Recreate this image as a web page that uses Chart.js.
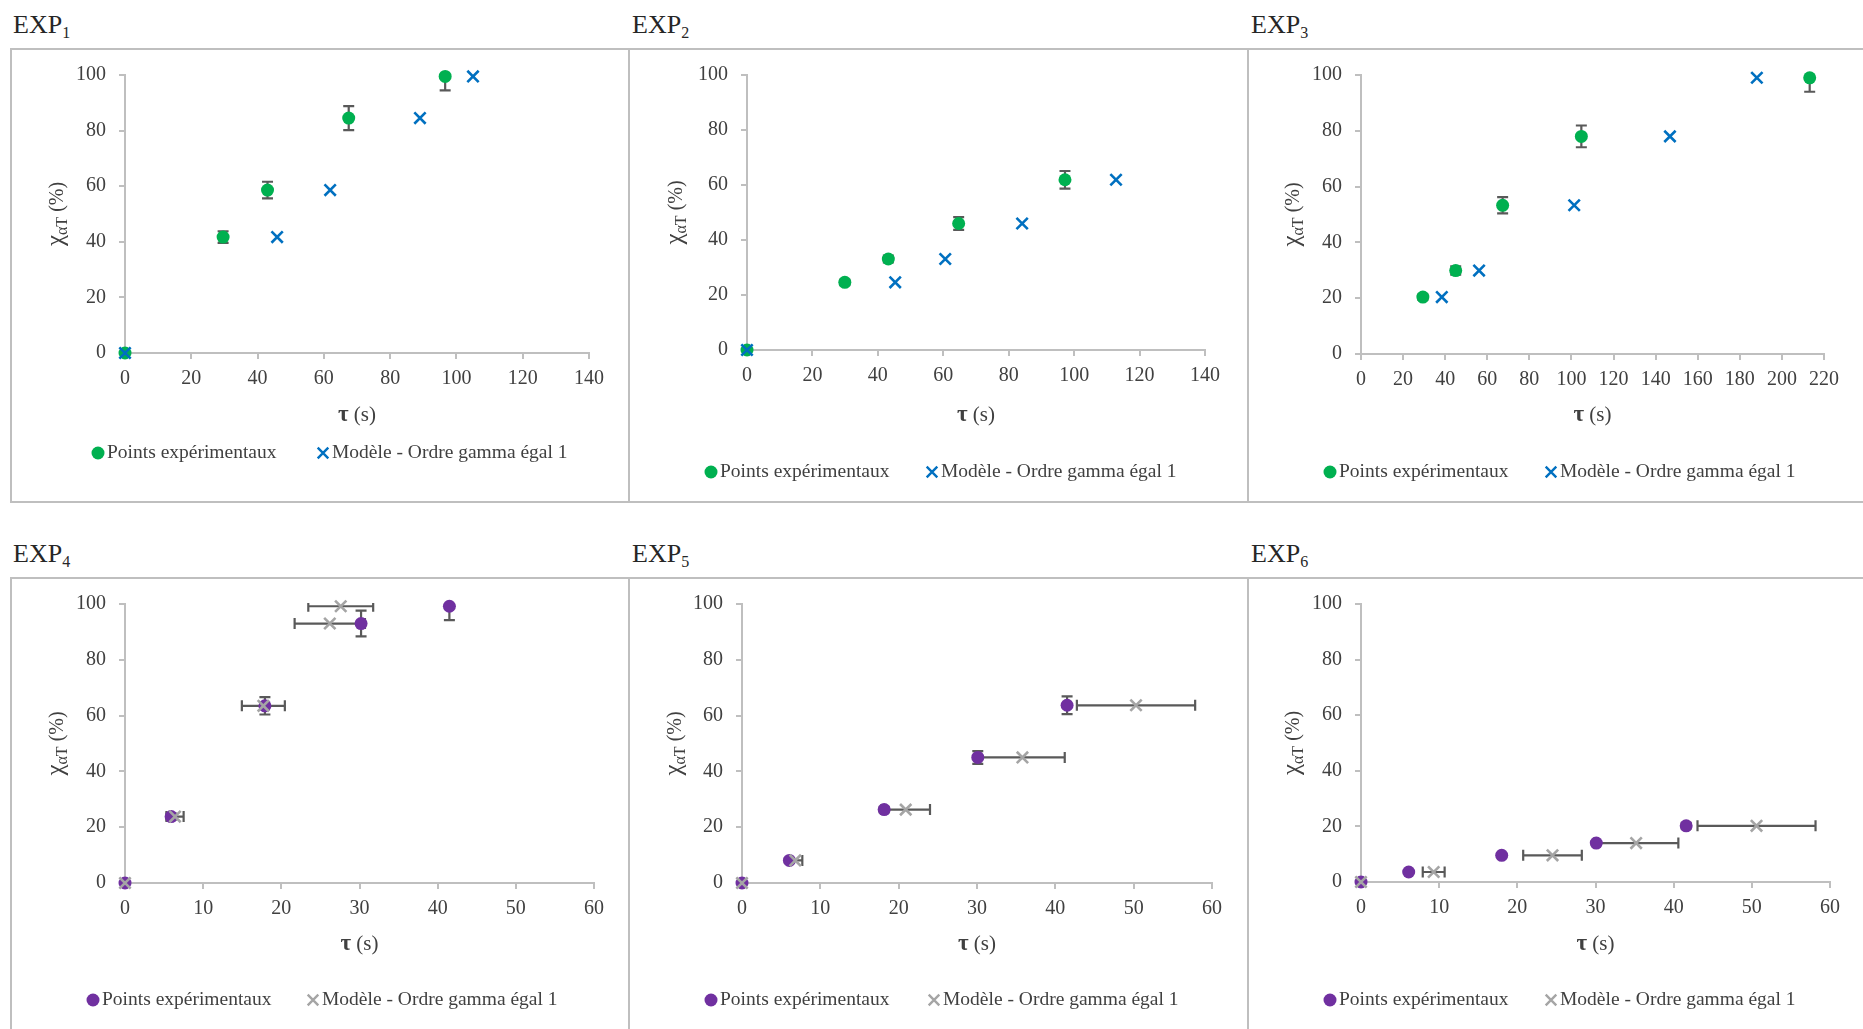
<!DOCTYPE html>
<html>
<head>
<meta charset="utf-8">
<script src="https://cdn.jsdelivr.net/npm/chart.js@4.4.1/dist/chart.umd.min.js"></script>
<style>
body { margin:0; width:1863px; height:1029px; overflow:hidden; background:#fff; position:relative; font-family:"Liberation Serif", serif; }
.lbl { position:absolute; font-size:26px; line-height:26px; color:#262626; white-space:nowrap; }
.lbl sub { font-size:16px; line-height:0; vertical-align:-5px; }
.panel { position:absolute; border:2px solid #BFBFBF; box-sizing:border-box; overflow:hidden; background:#fff; }
.panel canvas { position:absolute; left:0; top:0; }
</style>
</head>
<body>
<div class="lbl" style="left:13px;top:12px">EXP<sub>1</sub></div>
<div class="lbl" style="left:632px;top:12px">EXP<sub>2</sub></div>
<div class="lbl" style="left:1251px;top:12px">EXP<sub>3</sub></div>
<div class="lbl" style="left:13px;top:541px">EXP<sub>4</sub></div>
<div class="lbl" style="left:632px;top:541px">EXP<sub>5</sub></div>
<div class="lbl" style="left:1251px;top:541px">EXP<sub>6</sub></div>

<div class="panel" style="left:10px;top:48px;width:620px;height:455px"><canvas id="c1" width="616" height="451"></canvas></div>
<div class="panel" style="left:628px;top:48px;width:621px;height:455px"><canvas id="c2" width="617" height="451"></canvas></div>
<div class="panel" style="left:1247px;top:48px;width:620px;height:455px"><canvas id="c3" width="616" height="451"></canvas></div>
<div class="panel" style="left:10px;top:577px;width:620px;height:460px"><canvas id="c4" width="616" height="456"></canvas></div>
<div class="panel" style="left:628px;top:577px;width:621px;height:460px"><canvas id="c5" width="617" height="456"></canvas></div>
<div class="panel" style="left:1247px;top:577px;width:620px;height:460px"><canvas id="c6" width="616" height="456"></canvas></div>

<script>
// values: tau (s), conversion (%), error bars
const exp1X = [0, 29.6, 43.0, 67.5, 96.6];
const exp1Y = [0, 41.7, 58.6, 84.5, 99.5];
const exp1Err = [0, 2.1, 3.0, 4.3, 5.0];
const mod1X = [0, 45.9, 61.9, 89.0, 105.0];

const exp2X = [0, 29.9, 43.2, 64.7, 97.2];
const exp2Y = [0, 24.6, 33.1, 46.0, 61.9];
const exp2Err = [0, 1.0, 1.2, 2.3, 3.2];
const mod2X = [0, 45.3, 60.6, 84.1, 112.8];

const exp3X = [29.4, 45.0, 67.3, 104.7, 213.2];
const exp3Y = [20.4, 29.9, 53.3, 78.0, 99.0];
const exp3Err = [1.0, 1.5, 2.9, 3.9, 5.0];
const mod3X = [38.4, 56.1, 101.3, 146.8, 188.1];

const exp4X = [0, 5.9, 17.9, 30.2, 41.5];
const exp4Y = [0, 23.8, 63.5, 93.0, 99.2];
const exp4Err = [0, 1.2, 3.1, 4.6, 5.0];
const mod4X = [0, 6.4, 17.7, 26.2, 27.6];
const mod4XErr = [0, 1.1, 2.75, 4.5, 4.15];

const exp5X = [0, 6.05, 18.15, 30.1, 41.5];
const exp5Y = [0, 8.1, 26.3, 45.0, 63.7];
const exp5Err = [0, 0.8, 1.0, 2.3, 3.2];
const mod5X = [0, 6.8, 20.9, 35.8, 50.3];
const mod5XErr = [0, 0.9, 3.1, 5.4, 7.55];

const exp6X = [0, 6.1, 18.0, 30.1, 41.6];
const exp6Y = [0, 3.6, 9.6, 14.0, 20.2];
const exp6Err = [0, 0.3, 0.5, 0.7, 1.0];
const mod6X = [0, 9.3, 24.5, 35.2, 50.6];
const mod6XErr = [0, 1.4, 3.75, 5.4, 7.55];

const yTicks = [0, 20, 40, 60, 80, 100];
const expLabel = "Points expérimentaux";
const modLabel = "Modèle - Ordre gamma égal 1";

const GREEN = "#00B050", BLUE = "#0070C0", PURPLE = "#7030A0", GREY = "#A5A5A5";
const TEXT = "#404040", AXIS = "#BFBFBF", BAR = "#595959";
const FONT = '"Liberation Serif", serif';

const panels = [
    { id: "c1", expX: exp1X, expY: exp1Y, yErr: exp1Err, modX: mod1X, xErr: null, xMax: 140, xStep: 20,
      expColor: GREEN, modColor: BLUE, area: [113, 577, 23, 303], yTitleX: 46, xTitleY: 365, legendY: 403, legendX: [86, 311] },
    { id: "c2", expX: exp2X, expY: exp2Y, yErr: exp2Err, modX: mod2X, xErr: null, xMax: 140, xStep: 20,
      expColor: GREEN, modColor: BLUE, area: [117, 575, 23, 300], yTitleX: 47, xTitleY: 365, legendY: 422, legendX: [81, 302] },
    { id: "c3", expX: exp3X, expY: exp3Y, yErr: exp3Err, modX: mod3X, xErr: null, xMax: 220, xStep: 20,
      expColor: GREEN, modColor: BLUE, area: [112, 575, 23, 304], yTitleX: 45, xTitleY: 365, legendY: 422, legendX: [81, 302] },
    { id: "c4", expX: exp4X, expY: exp4Y, yErr: exp4Err, modX: mod4X, xErr: mod4XErr, xMax: 60, xStep: 10,
      expColor: PURPLE, modColor: GREY, area: [113, 582, 24, 304], yTitleX: 46, xTitleY: 365, legendY: 421, legendX: [81, 301] },
    { id: "c5", expX: exp5X, expY: exp5Y, yErr: exp5Err, modX: mod5X, xErr: mod5XErr, xMax: 60, xStep: 10,
      expColor: PURPLE, modColor: GREY, area: [112, 582, 24, 304], yTitleX: 46, xTitleY: 365, legendY: 421, legendX: [81, 304] },
    { id: "c6", expX: exp6X, expY: exp6Y, yErr: exp6Err, modX: mod6X, xErr: mod6XErr, xMax: 60, xStep: 10,
      expColor: PURPLE, modColor: GREY, area: [112, 581, 24, 303], yTitleX: 45, xTitleY: 365, legendY: 421, legendX: [81, 302] }
];

const Y_AXIS_W = 70, X_AXIS_H = 45;

// error bars, axis titles and legend
const extras = {
    id: "extras",
    beforeDatasetsDraw(chart, args, o) {
        const ctx = chart.ctx, xs = chart.scales.x, ys = chart.scales.y, a = chart.chartArea;
        const exp = chart.data.datasets[1].data, mod = chart.data.datasets[0].data;
        const cap = 5.5;
        ctx.save();
        ctx.beginPath();
        ctx.rect(a.left - 10, a.top - 1, a.right - a.left + 20, a.bottom - a.top + 2);
        ctx.clip();
        ctx.strokeStyle = BAR;
        ctx.lineWidth = 2.2;
        exp.forEach((p, i) => {
            const e = o.yErr[i];
            if (!e) return;
            const px = xs.getPixelForValue(p.x);
            const y1 = ys.getPixelForValue(p.y - e), y2 = ys.getPixelForValue(p.y + e);
            ctx.beginPath();
            ctx.moveTo(px, y1); ctx.lineTo(px, y2);
            ctx.moveTo(px - cap, y1); ctx.lineTo(px + cap, y1);
            ctx.moveTo(px - cap, y2); ctx.lineTo(px + cap, y2);
            ctx.stroke();
        });
        if (o.xErr) {
            mod.forEach((p, i) => {
                const e = o.xErr[i];
                if (!e) return;
                const py = ys.getPixelForValue(p.y);
                const x1 = xs.getPixelForValue(p.x - e), x2 = xs.getPixelForValue(p.x + e);
                ctx.beginPath();
                ctx.moveTo(x1, py); ctx.lineTo(x2, py);
                ctx.moveTo(x1, py - cap); ctx.lineTo(x1, py + cap);
                ctx.moveTo(x2, py - cap); ctx.lineTo(x2, py + cap);
                ctx.stroke();
            });
        }
        ctx.restore();
    },
    afterDraw(chart, args, o) {
        const ctx = chart.ctx, a = chart.chartArea;
        ctx.save();
        ctx.fillStyle = TEXT;

        // y title: chi with subscript alpha T
        const chiF = "25px " + FONT, subF = "16px " + FONT, pctF = "20px " + FONT;
        ctx.translate(o.yTitleX, (a.top + a.bottom) / 2);
        ctx.rotate(-Math.PI / 2);
        ctx.textBaseline = "alphabetic";
        ctx.textAlign = "left";
        ctx.font = chiF;
        const w1 = ctx.measureText("χ").width;
        ctx.font = subF;
        const w2 = ctx.measureText("αT").width;
        ctx.font = pctF;
        const w3 = ctx.measureText(" (%)").width;
        let x = -(w1 + w2 + w3) / 2;
        ctx.font = chiF; ctx.fillText("χ", x, 5); x += w1;
        ctx.font = subF; ctx.fillText("αT", x, 9); x += w2;
        ctx.font = pctF; ctx.fillText(" (%)", x, 5);
        ctx.setTransform(1, 0, 0, 1, 0, 0);

        // x title: bold tau
        ctx.textBaseline = "middle";
        const bold = "bold 23px " + FONT, norm = "21px " + FONT;
        ctx.font = bold;
        const t1 = ctx.measureText("τ").width;
        ctx.font = norm;
        const t2 = ctx.measureText(" (s)").width;
        const tx = (a.left + a.right) / 2 - (t1 + t2) / 2;
        ctx.font = bold; ctx.fillText("τ", tx, o.xTitleY);
        ctx.font = norm; ctx.fillText(" (s)", tx + t1, o.xTitleY);

        // legend
        const ly = o.legendY, [lx1, lx2] = o.legendX;
        ctx.fillStyle = o.expColor;
        Chart.helpers.drawPoint(ctx, { pointStyle: "circle", radius: 6.5, borderWidth: 0 }, lx1, ly);
        ctx.strokeStyle = o.modColor;
        ctx.lineWidth = 2.4;
        Chart.helpers.drawPoint(ctx, { pointStyle: "crossRot", radius: 7.5, borderWidth: 2.4 }, lx2, ly);
        ctx.fillStyle = TEXT;
        ctx.font = "19.5px " + FONT;
        ctx.textAlign = "left";
        ctx.fillText(expLabel, lx1 + 9, ly);
        ctx.fillText(modLabel, lx2 + 9, ly);
        ctx.restore();
    }
};

function makeChart(p) {
    const canvas = document.getElementById(p.id);
    const W = canvas.width, H = canvas.height;
    const [L, R, T, B] = p.area;
    const expData = p.expX.map((x, i) => ({ x: x, y: p.expY[i] }));
    const modData = p.modX.map((x, i) => ({ x: x, y: p.expY[i] }));
    const grid = { display: true, drawOnChartArea: false, drawTicks: true, tickLength: 6, color: AXIS, lineWidth: 2 };
    const border = { display: true, color: AXIS, width: 2 };
    const tickFont = { family: FONT, size: 20 };
    return new Chart(canvas, {
        type: "scatter",
        data: {
            datasets: [
                { label: modLabel, data: modData, order: 1, clip: false,
                  pointStyle: "crossRot", pointRadius: 8, pointBorderWidth: 2.6,
                  borderColor: p.modColor, backgroundColor: p.modColor },
                { label: expLabel, data: expData, order: 2, clip: false,
                  pointStyle: "circle", pointRadius: 6.5, pointBorderWidth: 0,
                  borderColor: p.expColor, backgroundColor: p.expColor }
            ]
        },
        options: {
            responsive: false,
            animation: false,
            devicePixelRatio: 1,
            layout: { padding: { left: L - Y_AXIS_W, right: W - R, top: T, bottom: H - B - X_AXIS_H } },
            scales: {
                x: {
                    type: "linear", min: 0, max: p.xMax,
                    grid: grid, border: border,
                    ticks: { stepSize: p.xStep, maxRotation: 0, color: TEXT, font: tickFont, padding: 8 },
                    afterFit: s => { s.height = X_AXIS_H; }
                },
                y: {
                    min: yTicks[0], max: yTicks[yTicks.length - 1],
                    grid: grid, border: border,
                    ticks: { stepSize: yTicks[1] - yTicks[0], color: TEXT, font: tickFont, padding: 13 },
                    afterFit: s => { s.width = Y_AXIS_W; }
                }
            },
            plugins: {
                legend: { display: false },
                tooltip: { enabled: false },
                extras: {
                    yErr: p.yErr, xErr: p.xErr, expColor: p.expColor, modColor: p.modColor,
                    yTitleX: p.yTitleX, xTitleY: p.xTitleY, legendY: p.legendY, legendX: p.legendX
                }
            }
        },
        plugins: [extras]
    });
}

panels.forEach(makeChart);
</script>
</body>
</html>
